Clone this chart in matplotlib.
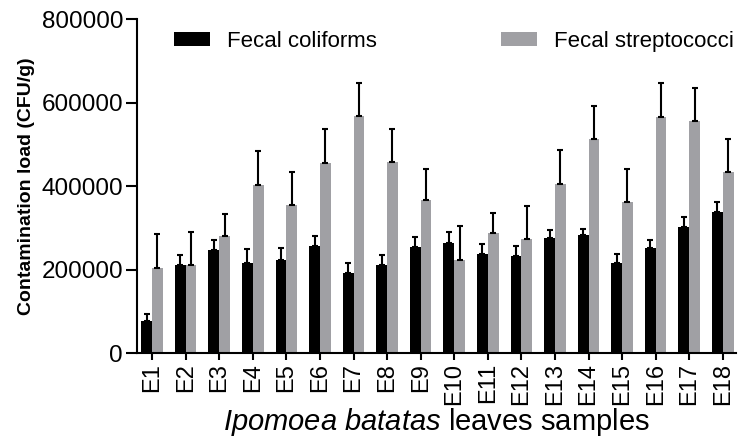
import matplotlib.pyplot as plt
import numpy as np

plt.rcParams["font.family"] = ["Liberation Sans", "DejaVu Sans"]
plt.rcParams["mathtext.fontset"] = "custom"
plt.rcParams["mathtext.it"] = "Liberation Sans:italic"
plt.rcParams["mathtext.rm"] = "Liberation Sans"

# Data
samples = [f"E{i}" for i in range(1, 19)]
coliforms = [78000, 210000, 246000, 217000, 222000, 256000, 193000, 210000, 254000,
             265000, 238000, 233000, 275000, 282000, 217000, 253000, 302000, 338000]
coliforms_err = [16000, 24000, 24000, 32000, 31000, 24000, 23000, 24000, 25000,
                 25000, 24000, 23000, 19000, 15000, 20000, 19000, 24000, 23000]
streptococci = [204000, 210000, 280000, 402000, 354000, 456000, 567000, 457000, 366000,
                223000, 288000, 273000, 406000, 512000, 362000, 566000, 556000, 435000]
streptococci_err = [82000, 81000, 53000, 82000, 79000, 81000, 79000, 79000, 76000,
                    81000, 48000, 79000, 80000, 80000, 78000, 81000, 80000, 79000]

BLACK = "#000000"
GRAY = "#A0A0A4"

fig = plt.figure(figsize=(7.38, 4.37), dpi=100)
ax = fig.add_axes([0.1856, 0.192, 0.812, 0.764])

x = np.arange(len(samples))
w = 0.32
zeros = np.zeros(len(samples))
err_kw = dict(ecolor="black", elinewidth=1.5, capsize=2, capthick=1.5)

ax.bar(x - w / 2, coliforms, w, color=BLACK, label="Fecal coliforms",
       yerr=[zeros, coliforms_err], error_kw=err_kw)
ax.bar(x + w / 2, streptococci, w, color=GRAY, label="Fecal streptococci",
       yerr=[zeros, streptococci_err], error_kw=err_kw)

ax.set_xlim(-0.45, 17.4)
ax.set_ylim(0, 800000)
ax.set_yticks([0, 200000, 400000, 600000, 800000])
ax.set_yticklabels(["0", "200000", "400000", "600000", "800000"], fontsize=17.5)
ax.set_xticks(x)
ax.set_xticklabels(samples, rotation=90, fontsize=17)

for side in ("top", "right"):
    ax.spines[side].set_visible(False)
for side in ("left", "bottom"):
    ax.spines[side].set_linewidth(1.5)
ax.tick_params(axis="y", length=8, width=1.5, direction="out", pad=2)
ax.tick_params(axis="x", length=5, width=1.5, direction="out", pad=2)

ax.set_ylabel("Contamination load (CFU/g)", fontsize=14, fontweight="bold",
              family=["Liberation Sans Narrow", "Liberation Sans"], labelpad=5)
ax.set_xlabel(r"$\it{Ipomoea\ batatas}$ leaves samples", fontsize=21, labelpad=1)

ax.legend(ncol=2, frameon=False, fontsize=16, loc="center left",
          bbox_to_anchor=(0.062, 0.934), borderaxespad=0, borderpad=0,
          columnspacing=5.6, handlelength=1.6, handleheight=0.55,
          handletextpad=0.77)

fig.savefig("out.png", dpi=100)
